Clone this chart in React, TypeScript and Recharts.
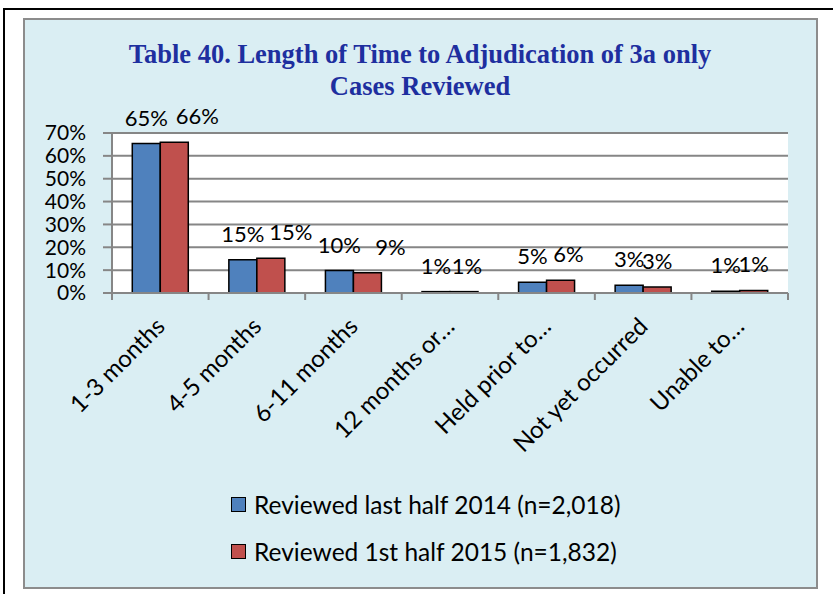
import React from "react"
import { BarChart, Bar, XAxis, YAxis, CartesianGrid, LabelList } from "recharts"

// --- data ---
const categories = [
  "1-3 months",
  "4-5 months",
  "6-11 months",
  "12 months or…",
  "Held prior to…",
  "Not yet occurred",
  "Unable to…",
]
const reviewed2014 = [65.4, 14.6, 9.8, 0.6, 4.7, 3.4, 0.8]
const reviewed2015 = [65.9, 15.2, 8.9, 0.6, 5.6, 2.6, 1.1]
const yTicks = [0, 10, 20, 30, 40, 50, 60, 70]
const seriesNames = [
  "Reviewed last half 2014 (n=2,018)",
  "Reviewed 1st half 2015 (n=1,832)",
]

const BLUE = "#4F81BD"
const RED = "#C0504D"
const GRID = "#868686"
const FONT = "Lato, 'Open Sans', sans-serif"

// the 2015 labels were nudged right in the original so they don't sit on the 2014 ones
const LABEL_NUDGE_2015 = [23, 20, 23, 3, 8, 0, 0]

const W = 833
const H = 594
const M_LEFT = 112
const M_RIGHT = 45
const BAND = (W - M_LEFT - M_RIGHT) / categories.length

const data = categories.map((name, i) => ({
  name,
  y2014: reviewed2014[i],
  y2015: reviewed2015[i],
}))

const pct = (v: any) => `${Math.round(Number(v))}%`

const makeLabel = (nudge: number[] | null) => (p: any) => {
  const { x, y, width, value, index } = p
  const dx = nudge ? nudge[index] || 0 : 0
  return (
    <text
      x={Number(x) + Number(width) / 2 + dx}
      y={Number(y) - 18}
      textAnchor="middle"
      fontFamily={FONT}
      fontSize={22}
      fill="#000"
    >
      {pct(value)}
    </text>
  )
}

const CategoryTick = (props: any) => {
  const { x, y, payload, index } = props
  const ax = x + 6
  const ay = y + 35
  return (
    <g>
      <line x1={x - BAND / 2} x2={x - BAND / 2} y1={y} y2={y + 7} stroke={GRID} strokeWidth={2} />
      {index === categories.length - 1 && (
        <line x1={x + BAND / 2} x2={x + BAND / 2} y1={y} y2={y + 7} stroke={GRID} strokeWidth={2} />
      )}
      <text
        x={ax}
        y={ay}
        textAnchor="end"
        transform={`rotate(-45, ${ax}, ${ay})`}
        fontFamily={FONT}
        fontSize={24}
        fill="#000"
      >
        {payload.value}
      </text>
    </g>
  )
}

export default function App() {
  return (
    <div style={{ position: "absolute", left: 0, top: 0, width: W, height: H, overflow: "hidden", background: "#fff" }}>
      {/* outer frame */}
      <div style={{ position: "absolute", left: 3, top: 8, width: 900, height: 700, borderLeft: "2px solid #000", borderTop: "2px solid #000" }} />
      {/* chart panel */}
      <div
        style={{
          position: "absolute",
          left: 23,
          top: 18,
          width: 795,
          height: 571,
          background: "#DAEEF3",
          border: "2px solid #8C8C8C",
          boxSizing: "border-box",
        }}
      />
      <svg width={W} height={110} style={{ position: "absolute", left: 0, top: 0 }}>
        <text x={420} y={63} textAnchor="middle" fontFamily="'Liberation Serif', 'Times New Roman', serif" fontWeight="bold" fontSize={26.5} fill="#1E2F9F">
          Table 40. Length of Time to Adjudication of 3a only
        </text>
        <text x={420} y={95} textAnchor="middle" fontFamily="'Liberation Serif', 'Times New Roman', serif" fontWeight="bold" fontSize={26.5} fill="#1E2F9F">
          Cases Reviewed
        </text>
      </svg>
      <div style={{ position: "absolute", left: 0, top: 0 }}>
        <BarChart
          width={W}
          height={H}
          data={data}
          margin={{ top: 133, right: M_RIGHT, bottom: 181, left: 0 }}
          barGap={0}
          barCategoryGap="21%"
        >
          <CartesianGrid vertical={false} stroke={GRID} strokeWidth={2} fill="#fff" />
          <XAxis
            dataKey="name"
            interval={0}
            height={120}
            axisLine={{ stroke: GRID, strokeWidth: 2 }}
            tickLine={false}
            tickSize={0}
            tickMargin={0}
            tick={<CategoryTick />}
          />
          <YAxis
            width={M_LEFT}
            domain={[0, 70]}
            ticks={yTicks}
            interval={0}
            tickFormatter={(v: number) => `${v}%`}
            axisLine={{ stroke: GRID, strokeWidth: 2 }}
            tickLine={{ stroke: GRID, strokeWidth: 2 }}
            tickSize={9}
            tickMargin={17}
            tick={{ fontFamily: FONT, fontSize: 21, fill: "#000" }}
          />
          <Bar dataKey="y2014" name={seriesNames[0]} fill={BLUE} stroke="#000" strokeWidth={1.5} isAnimationActive={false}>
            <LabelList dataKey="y2014" content={makeLabel(null)} />
          </Bar>
          <Bar dataKey="y2015" name={seriesNames[1]} fill={RED} stroke="#000" strokeWidth={1.5} isAnimationActive={false}>
            <LabelList dataKey="y2015" content={makeLabel(LABEL_NUDGE_2015)} />
          </Bar>
        </BarChart>
      </div>
      {/* legend */}
      <div style={{ position: "absolute", left: 231, top: 488, fontFamily: FONT, fontSize: 24.5, color: "#000" }}>
        {seriesNames.map((n, i) => (
          <div key={n} style={{ display: "flex", alignItems: "center", height: 32, marginBottom: 15 }}>
            <span
              style={{
                display: "inline-block",
                width: 13,
                height: 13,
                background: i === 0 ? BLUE : RED,
                border: "1px solid #000",
                marginRight: 8,
              }}
            />
            <span>{n}</span>
          </div>
        ))}
      </div>
    </div>
  )
}
